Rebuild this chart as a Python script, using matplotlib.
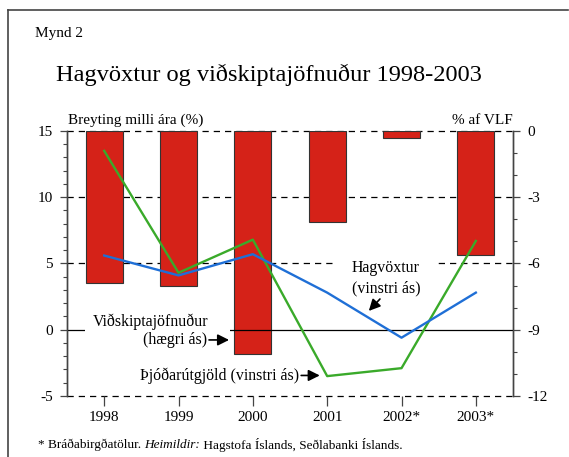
import matplotlib.pyplot as plt
import numpy as np

years = ['1998', '1999', '2000', '2001', '2002*', '2003*']
vidskiptajofnudur = [-6.9, -7.0, -10.1, -4.1, -0.3, -5.6]   # % af VLF, right axis
hagvoxtur = [5.6, 4.1, 5.7, 2.8, -0.6, 2.8]                  # left axis
thjodarutgjold = [13.5, 4.3, 6.8, -3.5, -2.9, 6.7]           # left axis

plt.rcParams['font.family'] = ['Liberation Serif', 'DejaVu Serif']
plt.rcParams['axes.unicode_minus'] = False

red = '#d52218'
blue = '#1f6fd6'
green = '#3aaa2a'

fig = plt.figure(figsize=(5.69, 4.57), dpi=100)
x = np.arange(len(years))

ax2 = fig.add_axes([0.1178, 0.1335, 0.7838, 0.5799])
ax = ax2.twinx()
ax.yaxis.tick_left()
ax2.yaxis.tick_right()
ax.set_zorder(ax2.get_zorder() + 1)
ax.patch.set_visible(False)

# bars on right scale
ax2.set_ylim(-12, 0)
for yv in [-3, -6, -12, 0]:
    ax2.axhline(yv, color='black', lw=0.9, dashes=(5, 4), zorder=0, clip_on=False)
ax2.bar(x, vidskiptajofnudur, width=0.5, color=red, edgecolor='#333333', linewidth=0.8, zorder=2)
ax2.set_xlim(-0.5, 5.5)

ax.set_ylim(-5, 15)
ax.axhline(0, color='black', lw=0.9, zorder=1)
# white gaps in the grid lines behind the labels
ax.add_patch(plt.Rectangle((-0.26, -0.3), 1.95, 0.6, facecolor='white', edgecolor='none', zorder=2))
ax.add_patch(plt.Rectangle((3.08, 4.7), 1.4, 0.6, facecolor='white', edgecolor='none', zorder=2))
ax.plot(x, thjodarutgjold, color=green, lw=1.7, zorder=3)
ax.plot(x, hagvoxtur, color=blue, lw=1.7, zorder=3)
ax.set_xlim(-0.5, 5.5)

for a in (ax, ax2):
    for s in ['top', 'bottom']:
        a.spines[s].set_visible(False)
    for s in ['left', 'right']:
        a.spines[s].set_color('#444444')
        a.spines[s].set_linewidth(1.0)

ax.set_yticks([-5, 0, 5, 10, 15])
ax.set_yticks(np.arange(-5, 16, 1), minor=True)
ax2.set_yticks([-12, -9, -6, -3, 0])
ax2.set_yticks(np.arange(-12, 1, 1), minor=True)
for a in (ax, ax2):
    a.tick_params(axis='y', which='major', direction='out', length=5, width=0.9, color='#444444', labelsize=11, pad=5)
    a.tick_params(axis='y', which='minor', direction='out', length=3, width=0.8, color='#444444')

ax2.set_xticks(x)
ax2.set_xticklabels(years)
ax2.tick_params(axis='x', direction='out', length=7, width=0.9, color='#444444', labelsize=11, pad=4)
ax.tick_params(axis='x', bottom=False, labelbottom=False)

arrow = dict(arrowstyle='-|>', color='black', lw=1.2, mutation_scale=17, shrinkA=0, shrinkB=0)
fs = 11.4
ax.text(0.62, 0.6, 'Viðskiptajöfnuður', ha='center', va='center', fontsize=fs, zorder=5)
ax.text(1.38, -0.77, '(hægri ás)', ha='right', va='center', fontsize=fs, zorder=5)
ax.annotate('', xy=(1.68, -0.77), xytext=(1.41, -0.77), arrowprops=arrow, zorder=5)
ax.text(0.48, -3.45, 'Þjóðarútgjöld (vinstri ás)', ha='left', va='center', fontsize=fs, zorder=5)
ax.annotate('', xy=(2.9, -3.45), xytext=(2.65, -3.45), arrowprops=arrow, zorder=5)
ax.text(3.79, 4.66, 'Hagvöxtur', ha='center', va='center', fontsize=fs, zorder=5)
ax.text(3.79, 3.15, '(vinstri ás)', ha='center', va='center', fontsize=fs, zorder=5)
ax.annotate('', xy=(3.56, 1.42), xytext=(3.71, 2.32), arrowprops=arrow, zorder=5)

fig.text(68 / 569, 1 - 120 / 457, 'Breyting milli ára (%)', ha='left', va='center', fontsize=11)
fig.text(513 / 569, 1 - 120 / 457, '% af VLF', ha='right', va='center', fontsize=11)
fig.text(269 / 569, 1 - 75 / 457, 'Hagvöxtur og viðskiptajöfnuður 1998-2003', ha='center', va='center', fontsize=17.6)
fig.text(35 / 569, 1 - 34 / 457, 'Mynd 2', ha='left', va='center', fontsize=11)

# footnote in three pieces (italic middle)
renderer = fig.canvas.get_renderer()
fx = 38 / 569
fy = 1 - 445 / 457
for txt, style in [('* Bráðabirgðatölur. ', 'normal'), ('Heimildir:', 'italic'),
                   (' Hagstofa Íslands, Seðlabanki Íslands.', 'normal')]:
    t = fig.text(fx, fy, txt, ha='left', va='center', fontsize=9.5, style=style)
    bb = t.get_window_extent(renderer)
    fx += bb.width / fig.bbox.width

# frame lines
fig.add_artist(plt.Line2D([8 / 569, 568 / 569], [1 - 10 / 457, 1 - 10 / 457], color='#444444', lw=1.2))
fig.add_artist(plt.Line2D([8 / 569, 8 / 569], [1 - 10 / 457, 0], color='#444444', lw=1.2))

fig.savefig('out.png', dpi=100)
